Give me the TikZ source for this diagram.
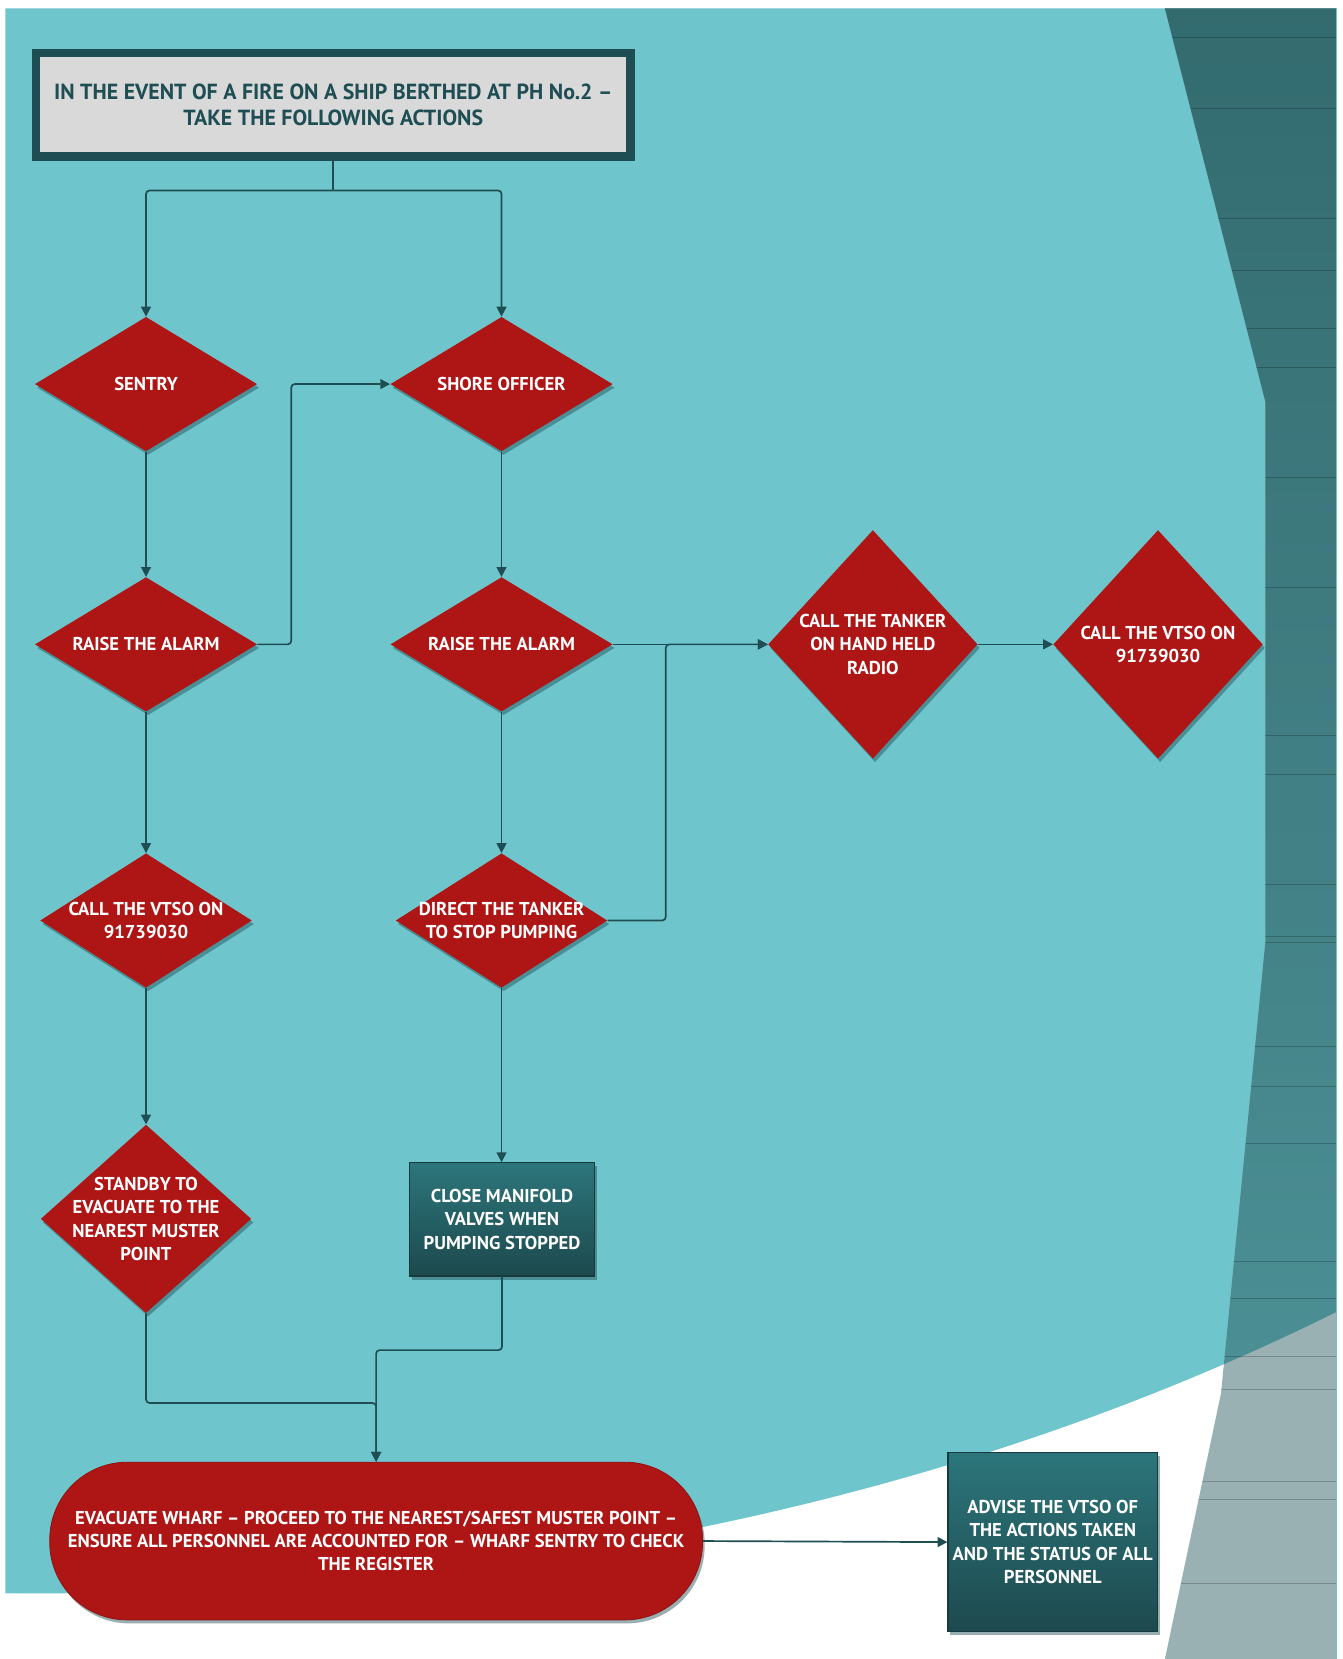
\documentclass[tikz,border=0pt]{standalone}
\usepackage{fontspec}
\setmainfont{PT Sans}
\newfontfamily\dfont[FakeStretch=1.0]{PT Sans}
\newfontfamily\tfont[FakeStretch=1.0]{PT Sans}
\usetikzlibrary{shapes.geometric,shadows,arrows.meta}
\definecolor{bgteal}{HTML}{6EC6CC}
\definecolor{darkA}{HTML}{336B6F}
\definecolor{darkB}{HTML}{50979C}
\definecolor{greyr}{HTML}{9AB1B3}
\definecolor{dred}{HTML}{AE1616}
\definecolor{lncol}{HTML}{1E4D53}
\definecolor{boxtop}{HTML}{2C767B}
\definecolor{boxbot}{HTML}{1D494E}
\definecolor{ttlgrey}{HTML}{D9D9D9}
\begin{document}
\begin{tikzpicture}[x=0.75pt,y=-0.75pt,
  conn/.style={draw=lncol, line width=1.2pt, rounded corners=2.5pt},
  arr/.style={conn, -{Triangle[length=7pt,width=7pt]}},
  dshadow/.style={drop shadow={shadow xshift=1.5pt, shadow yshift=-2.5pt, fill=lncol, opacity=0.45}},
  dia/.style={diamond, fill=dred, inner sep=0pt, dshadow},
  lbl/.style={text=white, align=center, font=\dfont\bfseries\fontsize{13.2}{16.5}\selectfont},
  tbox/.style={rectangle, draw=boxbot!80!black, line width=0.8pt, top color=boxtop, bottom color=boxbot, inner sep=0pt, dshadow, text=white, align=center, font=\dfont\bfseries\fontsize{13.2}{16.5}\selectfont},
  pill/.style={rectangle, rounded corners=55pt, fill=dred, draw=dred!85!black, line width=0.6pt, inner sep=0pt, dshadow, text=white, align=center, font=\dfont\bfseries\fontsize{13.2}{16.5}\selectfont},
  titlebox/.style={rectangle, fill=ttlgrey, draw=lncol, line width=6pt, inner sep=0pt, dshadow, text=lncol, align=center, font=\tfont\bfseries\fontsize{15.5}{18}\selectfont},
  stripe/.style={draw=black, opacity=0.22, line width=0.6pt}]

% ---------- background ----------
\useasboundingbox (0,0) rectangle (1269,1568);
\fill[white] (0,0) rectangle (1269,1568);
\fill[bgteal] (5,8) -- (1263,8) -- (1263,1240) .. controls (850,1445) and (400,1508) .. (5,1506) -- cycle;
\fill[greyr] (1101,8) -- (1263,8) -- (1263,1568) -- (1101,1568) -- (1154,1317) -- (1196,890) -- (1196,380) -- cycle;
\begin{scope}
  \clip (5,8) -- (1263,8) -- (1263,1240) .. controls (850,1445) and (400,1508) .. (5,1506) -- cycle;
  \shade[top color=darkA, bottom color=darkB] (1101,8) -- (1263,8) -- (1263,1568) -- (1101,1568) -- (1154,1317) -- (1196,890) -- (1196,380) -- cycle;
\end{scope}
\begin{scope}
  \clip (1101,8) -- (1263,8) -- (1263,1568) -- (1101,1568) -- (1154,1317) -- (1196,890) -- (1196,380) -- cycle;
  \foreach \yy in {35,102,206,256,310,347,451,555,695,732,836,885,891,989,1027,1081,1192,1227,1282,1313,1400,1417,1497}
    \draw[stripe] (1080,\yy) -- (1270,\yy);
\end{scope}
\draw[bgteal, line width=0.8pt] (1263,8) -- (1263,1568);

% ---------- nodes ----------
\node[titlebox, minimum width=421.5pt, minimum height=73.5pt] (title) at (315,99)
  {IN THE EVENT OF A FIRE ON A SHIP BERTHED AT PH No.2 –\\TAKE THE FOLLOWING ACTIONS};

\node[dia, minimum width=157.5pt, minimum height=95.25pt, label={[lbl]center:SENTRY}] (sentry) at (138,363) {};
\node[dia, minimum width=157.5pt, minimum height=95.25pt, label={[lbl]center:SHORE OFFICER}] (shore) at (474,363) {};
\node[dia, minimum width=157.5pt, minimum height=95.25pt, label={[lbl]center:RAISE THE ALARM}] (alarmL) at (138,609) {};
\node[dia, minimum width=157.5pt, minimum height=95.25pt, label={[lbl]center:RAISE THE ALARM}] (alarmR) at (474,609) {};
\node[dia, minimum width=150pt, minimum height=95.25pt, label={[lbl]center:{CALL THE VTSO ON\\91739030}}] (vtsoL) at (138,870) {};
\node[dia, minimum width=150pt, minimum height=95.25pt, label={[lbl]center:{DIRECT THE TANKER\\TO STOP PUMPING}}] (direct) at (474,870) {};
\node[dia, minimum width=149.25pt, minimum height=133.5pt, label={[lbl]center:{STANDBY TO\\EVACUATE TO THE\\NEAREST MUSTER\\POINT}}] (standby) at (138,1152) {};
\node[dia, minimum width=148.5pt, minimum height=162pt, label={[lbl]center:{CALL THE TANKER\\ON HAND HELD\\RADIO}}] (tanker) at (825,609) {};
\node[dia, minimum width=148.5pt, minimum height=162pt, label={[lbl]center:{CALL THE VTSO ON\\91739030}}] (vtsoR) at (1094.5,609) {};

\node[tbox, minimum width=131.25pt, minimum height=80.25pt] (close) at (474.5,1152.5)
  {CLOSE MANIFOLD\\VALVES WHEN\\PUMPING STOPPED};
\node[tbox, minimum width=148.5pt, minimum height=126.75pt] (advise) at (995,1457.5)
  {ADVISE THE VTSO OF\\THE ACTIONS TAKEN\\AND THE STATUS OF ALL\\PERSONNEL};
\node[pill, minimum width=462.75pt, minimum height=111.75pt] (evac) at (355.5,1456.5)
  {EVACUATE WHARF – PROCEED TO THE NEAREST/SAFEST MUSTER POINT –\\ENSURE ALL PERSONNEL ARE ACCOUNTED FOR – WHARF SENTRY TO CHECK\\THE REGISTER};

% ---------- connectors ----------
\coordinate (split) at (315,180);
\coordinate (join) at (355.5,1326);
\draw[conn] (title.south) -- (split);
\draw[arr] (split) -| (sentry.north);
\draw[arr] (split) -| (shore.north);
\draw[arr] (sentry.south) -- (alarmL.north);
\draw[arr] (alarmL.east) -- ++(32,0) |- (shore.west);
\draw[arr] (shore.south) -- (alarmR.north);
\draw[arr] (alarmL.south) -- (vtsoL.north);
\draw[arr] (alarmR.south) -- (direct.north);
\draw[arr] (alarmR.east) -- (tanker.west);
\draw[arr] (direct.east) -- ++(55,0) |- (tanker.west);
\draw[arr] (tanker.east) -- (vtsoR.west);
\draw[arr] (vtsoL.south) -- (standby.north);
\draw[arr] (direct.south) -- (direct.south |- close.north);
\draw[arr] (standby.south) |- (join) -- (evac.north);
\draw[arr] (close.south) -- ++(0,69.5) -| (evac.north);
\draw[arr] (evac.east) -- (advise.west);
\end{tikzpicture}
\end{document}
